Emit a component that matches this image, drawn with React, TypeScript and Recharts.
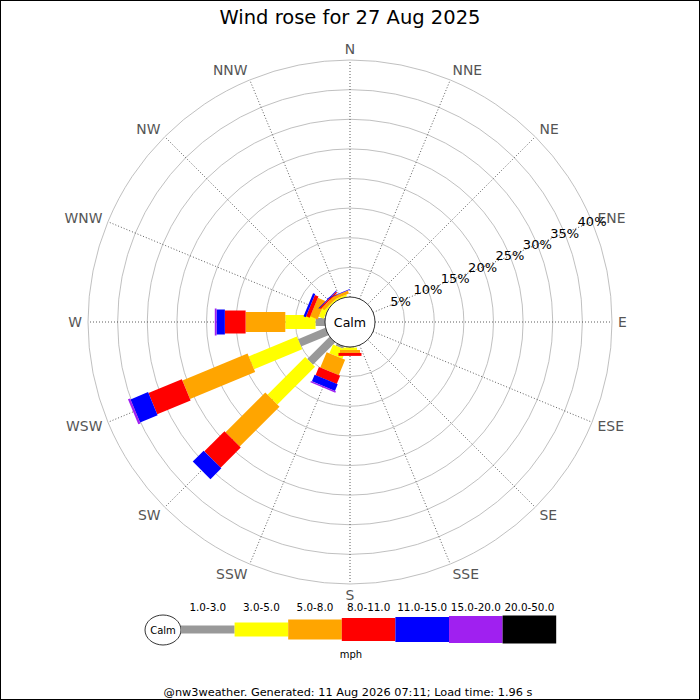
import {
  RadialBarChart,
  RadialBar,
  PolarAngleAxis,
  PolarRadiusAxis,
  PolarGrid,
} from "recharts";

const directions = [
  "N", "NNE", "NE", "ENE", "E", "ESE", "SE", "SSE",
  "S", "SSW", "SW", "WSW", "W", "WNW", "NW", "NNW",
];

const speedBins = ["1.0-3.0", "3.0-5.0", "5.0-8.0", "8.0-11.0", "11.0-15.0", "15.0-20.0", "20.0-50.0"];
const binColors = ["#999999", "#ffff00", "#ffa500", "#ff0000", "#0000ff", "#a020f0", "#000000"];
const binWidths = [8, 14, 20, 23, 25, 27, 28];

// % of observations, per direction (N .. NNW), one list per speed bin
const speed1to3 = [0, 0, 0, 0, 0, 0, 0, 0, 0.1, 0.4, 5.3, 5.0, 1.6, 0.1, 0, 0];
const speed3to5 = [0, 0, 0, 0, 0, 0, 0, 0, 0.4, 1.6, 9.0, 8.8, 5.1, 0.9, 0.25, 0.3];
const speed5to8 = [0, 0, 0, 0, 0, 0, 0, 0, 0.5, 2.8, 9.5, 11.9, 6.7, 1.35, 0.55, 0.5];
const speed8to11 = [0, 0, 0, 0, 0, 0, 0, 0, 0.5, 1.5, 4.8, 6.1, 3.5, 0.65, 0.25, 0.05];
const speed11to15 = [0, 0, 0, 0, 0, 0, 0, 0, 0, 1.2, 2.6, 3.2, 1.4, 0.4, 0.15, 0.1];
const speed15to20 = [0, 0, 0, 0, 0, 0, 0, 0, 0, 0.25, 0, 0.4, 0.3, 0, 0, 0];
const speed20to50 = [0, 0, 0, 0, 0, 0, 0, 0, 0, 0, 0, 0, 0, 0, 0, 0];

const radiusTicks = [5, 10, 15, 20, 25, 30, 35, 40];

const seriesList = [speed1to3, speed3to5, speed5to8, speed8to11, speed11to15, speed15to20, speed20to50];

const data = directions.map((dir, i) => {
  const row: Record<string, string | number> = { dir };
  seriesList.forEach((s, k) => {
    row[`b${k}`] = s[i];
  });
  return row;
});

const FONT = "DejaVu Sans, sans-serif";

// Straight bar of fixed width. With barCategoryGap=0 the sector recharts hands
// over starts on the category's tick angle, so the bar is laid along that angle.
const makeBarShape = (w: number) => (props: any) => {
  const { cx, cy, innerRadius, outerRadius, startAngle, fill } = props;
  if (!(outerRadius - innerRadius > 0.01)) return <g />;
  const a = (startAngle * Math.PI) / 180;
  const ux = Math.cos(a);
  const uy = -Math.sin(a);
  const vx = -uy;
  const vy = ux;
  const h = w / 2;
  const pts = [
    [cx + innerRadius * ux + h * vx, cy + innerRadius * uy + h * vy],
    [cx + outerRadius * ux + h * vx, cy + outerRadius * uy + h * vy],
    [cx + outerRadius * ux - h * vx, cy + outerRadius * uy - h * vy],
    [cx + innerRadius * ux - h * vx, cy + innerRadius * uy - h * vy],
  ];
  return <polygon points={pts.map((p) => p.join(",")).join(" ")} fill={fill} stroke="none" />;
};

const AngleTick = (props: any) => {
  const { x, y, payload, textAnchor } = props;
  const a = (payload.coordinate * Math.PI) / 180;
  return (
    <text
      x={x}
      y={y}
      dy={-Math.sin(a) * 5}
      textAnchor={textAnchor}
      dominantBaseline="central"
      fontFamily={FONT}
      fontSize={13.9}
      fill="#555555"
    >
      {payload.value}
    </text>
  );
};

const RadiusTick = (props: any) => {
  const { x, y, payload } = props;
  return (
    <text
      x={x}
      y={y}
      textAnchor="middle"
      dominantBaseline="central"
      fontFamily={FONT}
      fontSize={13}
      fill="#000"
    >
      {`${payload.value}%`}
    </text>
  );
};

function SpeedLegend() {
  const x0 = 181;
  const segW = 53.6;
  const cy = 629.5;
  return (
    <g>
      <ellipse cx={163} cy={630} rx={18} ry={15} fill="#fff" stroke="#000" strokeWidth={0.8} />
      <text x={163} y={630} textAnchor="middle" dominantBaseline="central" fontSize={10} fontFamily={FONT}>
        Calm
      </text>
      {speedBins.map((label, k) => (
        <g key={label}>
          <rect
            x={x0 + k * segW}
            y={cy - binWidths[k] / 2}
            width={segW}
            height={binWidths[k]}
            fill={binColors[k]}
          />
          <text
            x={x0 + (k + 0.5) * segW}
            y={607}
            textAnchor="middle"
            dominantBaseline="central"
            fontSize={10.4}
            fontFamily={FONT}
          >
            {label}
          </text>
        </g>
      ))}
      <text x={351} y={654} textAnchor="middle" dominantBaseline="central" fontSize={10} fontFamily={FONT}>
        mph
      </text>
    </g>
  );
}

function WindRose() {
  return (
    <div
      style={{
        position: "absolute",
        left: 0,
        top: 0,
        width: 700,
        height: 700,
        background: "#fff",
        fontFamily: FONT,
      }}
    >
      <RadialBarChart
        width={700}
        height={700}
        data={data}
        layout="centric"
        cx={350}
        cy={322}
        innerRadius={25}
        outerRadius={262}
        startAngle={90}
        endAngle={-270}
        barCategoryGap={0}
        barGap={0}
        margin={{ top: 0, right: 0, bottom: 0, left: 0 }}
      >
        <PolarGrid gridType="circle" radialLines={false} stroke="#b0b0b0" strokeWidth={0.8} />
        <PolarGrid
          gridType="circle"
          polarRadius={[]}
          stroke="#333"
          strokeWidth={0.8}
          strokeDasharray="1 2"
        />
        <PolarAngleAxis
          type="category"
          dataKey="dir"
          axisLine={false}
          tickLine={false}
          tickSize={6}
          tick={<AngleTick />}
        />
        <PolarRadiusAxis
          type="number"
          domain={[0, 40]}
          ticks={radiusTicks}
          angle={22.5}
          axisLine={false}
          tickLine={false}
          tick={<RadiusTick />}
        />
        {speedBins.map((label, k) => (
          <RadialBar
            key={label}
            dataKey={`b${k}`}
            stackId="speed"
            fill={binColors[k]}
            shape={makeBarShape(binWidths[k])}
            isAnimationActive={false}
          />
        ))}
      </RadialBarChart>
      <svg
        width={700}
        height={700}
        style={{ position: "absolute", left: 0, top: 0, pointerEvents: "none" }}
      >
        <text x={350} y={24} textAnchor="middle" fontSize={19.5} fontFamily={FONT} fill="#000">
          Wind rose for 27 Aug 2025
        </text>
        <circle cx={350} cy={322} r={25} fill="#fff" stroke="#000" strokeWidth={0.8} />
        <text x={350} y={322} textAnchor="middle" dominantBaseline="central" fontSize={12.6} fontFamily={FONT}>
          Calm
        </text>
        <SpeedLegend />
        <text x={348} y={692} textAnchor="middle" dominantBaseline="central" fontSize={11.3} fontFamily={FONT}>
          @nw3weather. Generated: 11 Aug 2026 07:11; Load time: 1.96 s
        </text>
        <rect x={0.5} y={0.5} width={699} height={699} fill="none" stroke="#000" strokeWidth={1} />
      </svg>
    </div>
  );
}

export default function App() {
  return <WindRose />;
}
